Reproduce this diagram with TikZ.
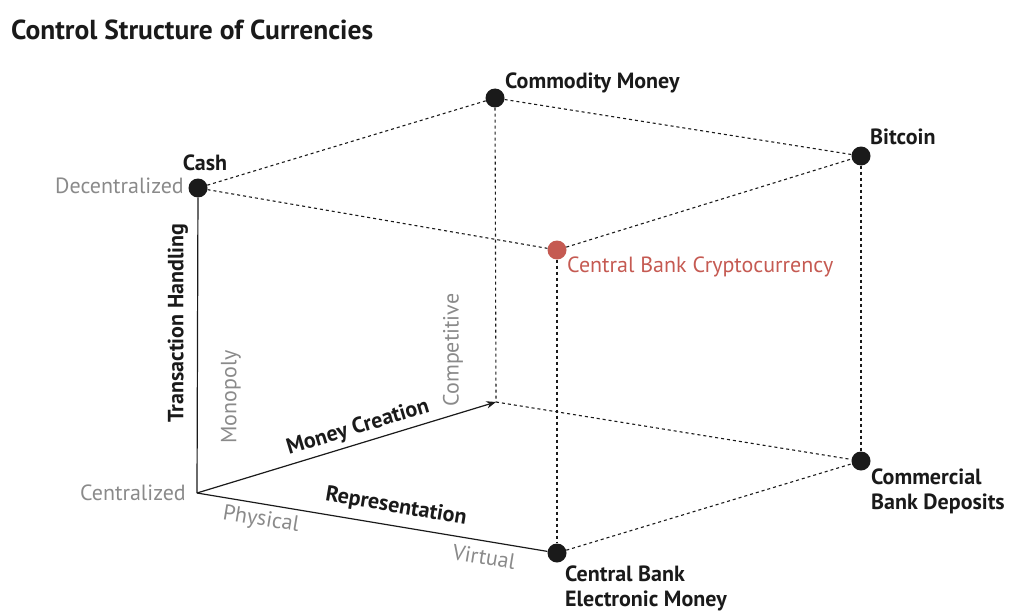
\documentclass[tikz,border=0pt]{standalone}
\usepackage{fontspec}
\setmainfont{PT Sans}
\usepackage{tikz}
\usetikzlibrary{calc,arrows.meta,positioning}
\definecolor{dotc}{HTML}{1A1A1A}
\definecolor{grayc}{HTML}{8A8A8A}
\definecolor{redc}{HTML}{C55A52}
\tikzset{
  ar/.style={-{Stealth[length=3.4mm,width=2.6mm]},line width=1.2pt,dotc},
  axis/.style={line width=1.2pt,dotc},
  edge/.style={line width=1.1pt,dotc,dash pattern=on 3pt off 3pt},
  pt/.style={circle,fill=dotc,minimum size=19pt,inner sep=0pt},
  lbl/.style={font=\fontsize{22}{25}\selectfont\bfseries,text=dotc,align=left,inner sep=0pt},
  sub/.style={font=\fontsize{22}{25}\selectfont,text=grayc,inner sep=0pt}
}
\begin{document}
\begin{tikzpicture}[x=1pt,y=-1pt]
\useasboundingbox (0,0) rectangle (1024,615);
\node[font=\fontsize{27.5}{32}\selectfont\bfseries,anchor=west,inner sep=0pt,text=dotc] (title) at (11,30) {Control Structure of Currencies};
% corners of the cube
\coordinate (orig) at (197,493);
\coordinate (back) at (496,402);
\node[pt] (cash) at (198,188) {};
\node[pt] (comm) at (495,98) {};
\node[pt] (btc) at (861,156) {};
\node[pt,fill=redc] (cbc) at (557,250) {};
\node[pt] (cbd) at (861,461) {};
\node[pt] (cbem) at (557,553) {};
% dotted edges
\draw[edge] (cash) -- (comm);
\draw[edge] (cash) -- (cbc);
\draw[edge] (comm) -- (btc);
\draw[edge] (cbc) -- (btc);
\draw[edge] (comm) -- (back);
\draw[edge] (cbc) -- (cbem);
\draw[edge] (btc) -- (cbd);
\draw[edge] (back) -- (cbd);
\draw[edge] (cbem) -- (cbd);
% axes
\draw[axis] (orig) -- (cash);
\draw[axis] (orig) -- (cbem);
\draw[ar] (orig) -- (back);
% corner labels
\node[lbl,anchor=south] (cashl) at (205,171) {Cash};
\node[lbl,anchor=west] (comml) at (505,83) {Commodity Money};
\node[lbl,anchor=west] (btcl) at (870,137) {Bitcoin};
\node[lbl,anchor=west,text=redc,font=\fontsize{22}{25}\selectfont] (cbcl) at (567,267) {Central Bank Cryptocurrency};
\node[lbl,anchor=north west] (cbdl) at (871,469) {Commercial\\Bank Deposits};
\node[lbl,anchor=north west] (cbeml) at (565,566) {Central Bank\\Electronic Money};
% axis labels
\node[sub,anchor=east] (decl) at (184,186) {Decentralized};
\node[sub,anchor=east] (cenl) at (186,493) {Centralized};
\node[lbl,rotate=90] (thl) at (178,323) {Transaction Handling};
\node[sub,rotate=90] (monl) at (231,397) {Monopoly};
\node[sub,rotate=90] (cmpl) at (453,350) {Competitive};
\node[lbl,rotate=16.9] (mcl) at (358,428) {Money Creation};
\node[lbl,rotate=-9.5] (repl) at (396,507) {Representation};
\node[sub,rotate=-9.5] (phyl) at (261,520) {Physical};
\node[sub,rotate=-9.5] (virl) at (484,557) {Virtual};
\end{tikzpicture}
\end{document}
